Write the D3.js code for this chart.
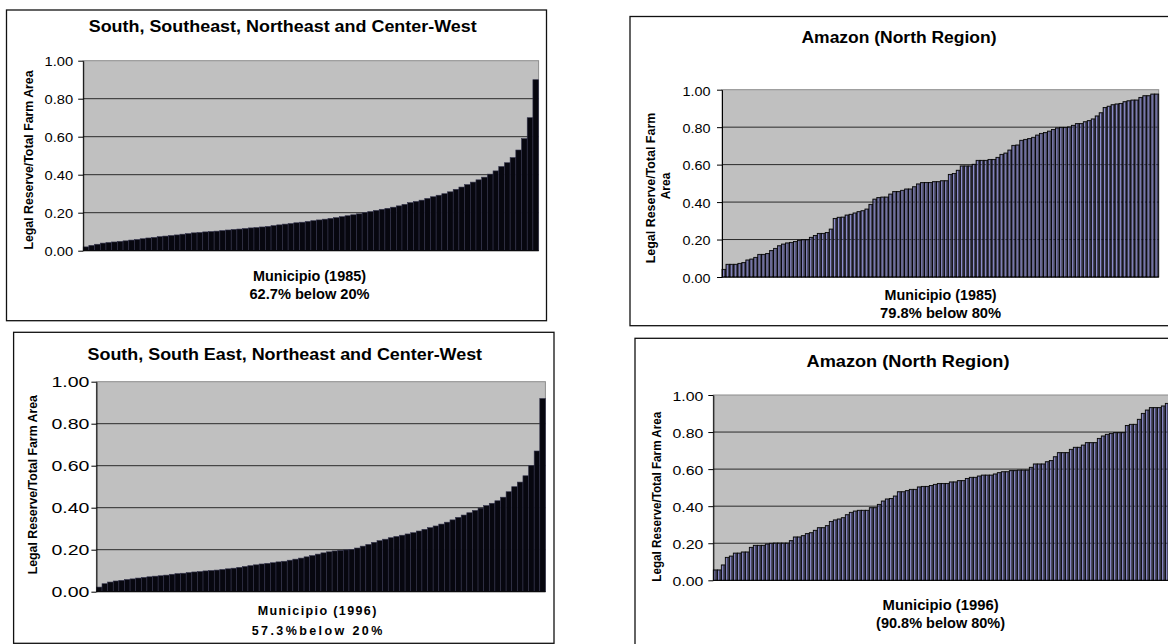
<!DOCTYPE html>
<html>
<head>
<meta charset="utf-8">
<script src="https://cdn.jsdelivr.net/npm/d3@7"></script>
<style>
  body { margin: 0; background: #fff; }
  svg { display: block; font-family: "Liberation Sans", Arial, sans-serif; }
</style>
</head>
<body>
<svg id="chart" width="1168" height="644"></svg>
<script>
// y축 눈금
const yTicks = [0, 0.2, 0.4, 0.6, 0.8, 1.0];

// 패널 제목 / 축 제목
const titles = [
    "South, Southeast, Northeast and Center-West",
    "Amazon (North Region)",
    "South, South East, Northeast and Center-West",
    "Amazon (North Region)"
];
const yTitle = "Legal Reserve/Total Farm Area";
const xTitles = [
    ["Municipio (1985)", "62.7% below 20%"],
    ["Municipio (1985)", "79.8% below 80%"],
    ["Municipio (1996)", "57.3%below 20%"],
    ["Municipio (1996)", "(90.8% below 80%)"]
];

// 비율 값 (그림에서 읽은 값, 오름차순)
const south1985 = [0.02, 0.028, 0.034, 0.04, 0.043, 0.046, 0.049, 0.052, 0.056, 0.059,
    0.063, 0.067, 0.07, 0.074, 0.077, 0.08, 0.083, 0.087, 0.09, 0.094,
    0.096, 0.099, 0.101, 0.103, 0.106, 0.109, 0.112, 0.114, 0.117, 0.12,
    0.122, 0.125, 0.128, 0.132, 0.136, 0.14, 0.143, 0.147, 0.15, 0.154,
    0.158, 0.162, 0.166, 0.17, 0.174, 0.179, 0.184, 0.189, 0.194, 0.2,
    0.206, 0.212, 0.218, 0.223, 0.229, 0.236, 0.244, 0.253, 0.259, 0.266,
    0.275, 0.284, 0.292, 0.3, 0.31, 0.323, 0.335, 0.348, 0.361, 0.373,
    0.387, 0.403, 0.42, 0.443, 0.463, 0.49, 0.53, 0.59, 0.7, 0.9];

const amazon1985 = [0.041, 0.068, 0.068, 0.068, 0.073, 0.077, 0.091, 0.096, 0.105, 0.121,
    0.121, 0.126, 0.141, 0.153, 0.167, 0.176, 0.182, 0.185, 0.19, 0.196,
    0.199, 0.199, 0.212, 0.222, 0.233, 0.233, 0.238, 0.256, 0.313, 0.319,
    0.32, 0.331, 0.335, 0.342, 0.349, 0.354, 0.363, 0.388, 0.416, 0.424,
    0.427, 0.427, 0.443, 0.456, 0.456, 0.463, 0.47, 0.47, 0.482, 0.497,
    0.504, 0.505, 0.505, 0.509, 0.509, 0.514, 0.514, 0.548, 0.553, 0.57,
    0.593, 0.593, 0.593, 0.602, 0.623, 0.623, 0.623, 0.628, 0.628, 0.639,
    0.655, 0.662, 0.678, 0.703, 0.705, 0.73, 0.735, 0.739, 0.746, 0.758,
    0.767, 0.771, 0.779, 0.788, 0.796, 0.799, 0.799, 0.801, 0.81, 0.819,
    0.819, 0.829, 0.835, 0.844, 0.86, 0.877, 0.905, 0.912, 0.92, 0.924,
    0.927, 0.936, 0.941, 0.945, 0.945, 0.959, 0.968, 0.968, 0.977, 0.977];

const south1996 = [0.022, 0.038, 0.046, 0.051, 0.054, 0.058, 0.061, 0.065, 0.068, 0.071,
    0.074, 0.076, 0.079, 0.083, 0.086, 0.088, 0.091, 0.094, 0.096, 0.099,
    0.101, 0.103, 0.106, 0.109, 0.112, 0.116, 0.12, 0.124, 0.128, 0.132,
    0.135, 0.138, 0.142, 0.145, 0.15, 0.155, 0.16, 0.166, 0.172, 0.179,
    0.185, 0.19, 0.194, 0.197, 0.199, 0.201, 0.208, 0.217, 0.225, 0.235,
    0.243, 0.25, 0.257, 0.263, 0.269, 0.275, 0.281, 0.289, 0.297, 0.305,
    0.313, 0.322, 0.331, 0.342, 0.354, 0.365, 0.376, 0.387, 0.398, 0.41,
    0.421, 0.433, 0.45, 0.476, 0.5, 0.522, 0.552, 0.6, 0.67, 0.92];

const amazon1996 = [0.056, 0.056, 0.083, 0.124, 0.131, 0.147, 0.147, 0.153, 0.153, 0.178,
    0.189, 0.189, 0.189, 0.196, 0.2, 0.201, 0.201, 0.201, 0.201, 0.214,
    0.234, 0.234, 0.241, 0.252, 0.257, 0.27, 0.284, 0.284, 0.295, 0.318,
    0.326, 0.331, 0.338, 0.354, 0.367, 0.374, 0.378, 0.378, 0.378, 0.392,
    0.392, 0.41, 0.428, 0.439, 0.442, 0.455, 0.478, 0.478, 0.484, 0.491,
    0.491, 0.504, 0.507, 0.507, 0.512, 0.518, 0.523, 0.523, 0.523, 0.531,
    0.531, 0.538, 0.538, 0.55, 0.556, 0.556, 0.563, 0.568, 0.568, 0.568,
    0.574, 0.581, 0.586, 0.586, 0.592, 0.592, 0.595, 0.595, 0.595, 0.61,
    0.628, 0.628, 0.628, 0.64, 0.646, 0.667, 0.689, 0.689, 0.689, 0.707,
    0.718, 0.718, 0.73, 0.743, 0.743, 0.743, 0.766, 0.779, 0.788, 0.793,
    0.797, 0.797, 0.797, 0.836, 0.842, 0.842, 0.869, 0.901, 0.919, 0.932,
    0.932, 0.932, 0.941, 0.955];

// 패널 배치
const panels = [
    {
        values: south1985, title: titles[0], xlab: xTitles[0], style: "solid",
        frame: [6.5, 10, 540, 310.7],
        plot: { l: 83.2, r: 538.6, t: 60.7, b: 250.7 },
        titlePos: { x: 282.7, y: 31.7, size: 17, len: 388 },
        tick: { size: 13, pad: 5, dy: 4.8, len: 28.6 },
        ylab: [{ text: yTitle, x: 33, y: 160, len: 179 }], ylabSize: 12,
        xlabPos: { x: 309.5, size: 14, lines: [{ y: 281, len: 113 }, { y: 299.3, len: 120 }] }
    },
    {
        values: amazon1985, title: titles[1], xlab: xTitles[1], style: "outlined",
        frame: [630, 16.5, 560, 309.2],
        plot: { l: 722, r: 1158.7, t: 89.7, b: 277 },
        titlePos: { x: 899, y: 43, size: 16, len: 195 },
        tick: { size: 13, pad: 6.5, dy: 5.3, len: 28 },
        ylab: [{ text: "Legal Reserve/Total Farm", x: 654.5, y: 188, len: 150.6 },
               { text: "Area", x: 669.5, y: 186 }], ylabSize: 12,
        xlabPos: { x: 940.6, size: 14, lines: [{ y: 300, len: 112 }, { y: 318.3, len: 121 }] }
    },
    {
        values: south1996, title: titles[2], xlab: xTitles[2], style: "solid",
        frame: [13.6, 332.3, 540.4, 311],
        plot: { l: 96.4, r: 545.4, t: 381.7, b: 591.7 },
        titlePos: { x: 284.8, y: 360, size: 16, len: 394.5 },
        tick: { size: 15, pad: 2, dy: 5.2, len: 38 },
        ylab: [{ text: yTitle, x: 37, y: 484.7, len: 179.3 }], ylabSize: 12.5,
        xlabPos: { x: 317, size: 12.5, adjust: "spacing", lines: [{ y: 615, len: 118.6 }, { y: 635, len: 130.5 }] }
    },
    {
        values: amazon1996, title: titles[3], xlab: xTitles[3], style: "outlined",
        frame: [635, 338.3, 560, 320],
        plot: { l: 713.3, r: 1169.3, t: 395, b: 580.3 },
        titlePos: { x: 908, y: 367.3, size: 17, len: 203 },
        tick: { size: 13, pad: 5, dy: 5.5, len: 30.8 },
        ylab: [{ text: yTitle, x: 661, y: 496.7, len: 170 }], ylabSize: 12,
        xlabPos: { x: 940.6, size: 14, lines: [{ y: 610, len: 116 }, { y: 627.5, len: 129 }] }
    }
];

const svg = d3.select("#chart");

panels.forEach(drawPanel);

function drawPanel(p) {
    const g = svg.append("g");
    const { l, r, t, b } = p.plot;

    // 바깥 테두리
    g.append("rect")
        .attr("x", p.frame[0]).attr("y", p.frame[1])
        .attr("width", p.frame[2]).attr("height", p.frame[3])
        .attr("fill", "#fff")
        .attr("stroke", "#111")
        .attr("stroke-width", 1.3);

    const x = d3.scaleBand()
        .domain(d3.range(p.values.length))
        .range([l, r])
        .padding(0);

    const y = d3.scaleLinear()
        .domain([0, 1])
        .range([b, t]);

    // 플롯 영역
    g.append("rect")
        .attr("x", l).attr("y", t)
        .attr("width", r - l).attr("height", b - t)
        .attr("fill", "#c0c0c0")
        .attr("stroke", "#8c8c8c")
        .attr("stroke-width", 1);

    // 격자선
    g.selectAll(".grid")
        .data(yTicks.slice(1, -1))
        .join("line")
        .attr("class", "grid")
        .attr("x1", l).attr("x2", r)
        .attr("y1", d => y(d)).attr("y2", d => y(d))
        .attr("stroke", "#2a2a2a")
        .attr("stroke-width", 1);

    // 막대
    if (p.style === "solid") {
        g.selectAll(".bar")
            .data(p.values)
            .join("rect")
            .attr("class", "bar")
            .attr("x", (d, i) => x(i))
            .attr("width", x.bandwidth())
            .attr("y", d => y(d))
            .attr("height", d => b - y(d))
            .attr("fill", "#07070f")
            .attr("stroke", "#34344c")
            .attr("stroke-width", 0.6);
    } else {
        g.selectAll(".bar")
            .data(p.values)
            .join("rect")
            .attr("class", "bar")
            .attr("x", (d, i) => x(i))
            .attr("width", x.bandwidth())
            .attr("y", d => y(d))
            .attr("height", d => b - y(d))
            .attr("fill", "#46465a")
            .attr("stroke", "#000")
            .attr("stroke-width", 0.8);

        // 막대 안쪽 밝은 줄
        g.selectAll(".hi")
            .data(p.values)
            .join("rect")
            .attr("class", "hi")
            .attr("x", (d, i) => x(i) + 0.9)
            .attr("width", 0.9)
            .attr("y", d => y(d) + 0.8)
            .attr("height", d => Math.max(0, b - y(d) - 0.8))
            .attr("fill", "#9696dc");

        // 막대 위로 비치는 격자선 (막대가 있는 구간만)
        g.selectAll(".grid2")
            .data(yTicks.slice(1, -1))
            .join("line")
            .attr("class", "grid2")
            .attr("x1", d => x(d3.bisectRight(p.values, d)) ?? r)
            .attr("x2", r)
            .attr("y1", d => y(d)).attr("y2", d => y(d))
            .attr("stroke", "#000")
            .attr("stroke-dasharray", "2,2")
            .attr("opacity", 0.5);
    }

    // y축
    const axis = g.append("g")
        .attr("transform", `translate(${l},0)`)
        .call(d3.axisLeft(y)
            .tickValues(yTicks)
            .tickFormat(d3.format(".2f"))
            .tickSize(5)
            .tickSizeOuter(0)
            .tickPadding(p.tick.pad))
        .attr("font-family", null)
        .attr("font-size", null);

    axis.select(".domain").attr("stroke", "#000");
    axis.selectAll(".tick line").attr("stroke", "#000");
    axis.selectAll(".tick text")
        .attr("fill", "#000")
        .attr("font-size", p.tick.size)
        .attr("dy", p.tick.dy)
        .attr("textLength", p.tick.len)
        .attr("lengthAdjust", "spacingAndGlyphs");

    // x축 선
    g.append("line")
        .attr("x1", l).attr("x2", r)
        .attr("y1", b).attr("y2", b)
        .attr("stroke", "#000")
        .attr("stroke-width", 1);

    // 제목
    g.append("text")
        .attr("x", p.titlePos.x)
        .attr("y", p.titlePos.y)
        .attr("text-anchor", "middle")
        .attr("font-weight", "bold")
        .attr("font-size", p.titlePos.size)
        .attr("textLength", p.titlePos.len)
        .attr("lengthAdjust", "spacingAndGlyphs")
        .text(p.title);

    // y축 제목 (회전)
    p.ylab.forEach(line => {
        const txt = g.append("text")
            .attr("transform", `translate(${line.x},${line.y}) rotate(-90)`)
            .attr("text-anchor", "middle")
            .attr("font-weight", "bold")
            .attr("font-size", p.ylabSize)
            .text(line.text);
        if (line.len) {
            txt.attr("textLength", line.len)
                .attr("lengthAdjust", "spacingAndGlyphs");
        }
    });

    // x축 제목 두 줄
    p.xlab.forEach((txt, k) => {
        const pos = p.xlabPos.lines[k];
        g.append("text")
            .attr("x", p.xlabPos.x)
            .attr("y", pos.y)
            .attr("text-anchor", "middle")
            .attr("font-weight", "bold")
            .attr("font-size", p.xlabPos.size)
            .attr("textLength", pos.len)
            .attr("lengthAdjust", p.xlabPos.adjust || "spacingAndGlyphs")
            .text(txt);
    });
}
</script>
</body>
</html>
